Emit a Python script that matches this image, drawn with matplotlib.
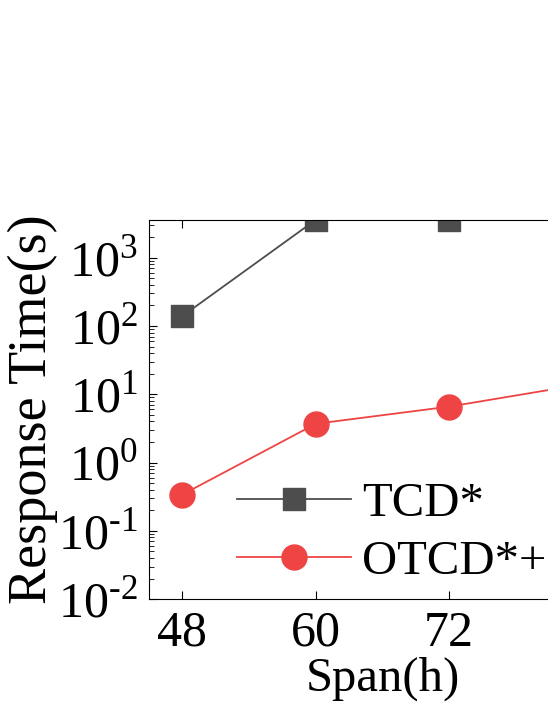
import matplotlib
matplotlib.use('Agg')
import matplotlib.pyplot as plt
from matplotlib.ticker import LogLocator, FuncFormatter, NullFormatter
import numpy as np

plt.rcParams['font.family'] = 'Liberation Serif'
plt.rcParams['mathtext.fontset'] = 'custom'
plt.rcParams['mathtext.rm'] = 'Liberation Serif'
plt.rcParams['axes.unicode_minus'] = False

spans = [48, 60, 72, 84]
tcd = [140, 3600, 3600, 3600]
otcd = [0.34, 3.7, 6.6, 14]

fig = plt.figure(figsize=(5.48, 7.09), dpi=100)
# axes run past the right edge, like the cropped original
ax = fig.add_axes([0.272, 0.155, 0.852, 0.535])

ax.plot(spans, tcd, color='#4d4d4d', marker='s', markersize=16, linewidth=1.3,
        label='TCD*')
ax.plot(spans, otcd, color='#ef4444', marker='o', markersize=18, linewidth=1.3,
        label='OTCD*+')

ax.set_yscale('log')
ax.set_ylim(0.01, 3600)
ax.set_xlim(45, 87)
ax.set_xticks(spans[:-1])  # 84 falls outside the cropped picture
ax.yaxis.set_major_locator(LogLocator(base=10, numticks=20))
ax.yaxis.set_minor_locator(LogLocator(base=10, subs=np.arange(2, 10), numticks=20))
ax.yaxis.set_minor_formatter(NullFormatter())
ax.yaxis.set_major_formatter(FuncFormatter(
    lambda v, p: '10$^{\\text{%d}}$' % round(np.log10(v))))

ax.tick_params(axis='both', which='both', direction='in', pad=8)
ax.tick_params(axis='x', which='major', top=True, length=6, labelsize=36)
ax.tick_params(axis='y', which='major', length=6, labelsize=36)
ax.tick_params(axis='y', which='minor', length=3.5)
ax.set_xlabel('Span(h)', fontsize=35, labelpad=0)
ax.set_ylabel('Response Time(s)', fontsize=39, labelpad=0)

leg = ax.legend(loc='lower left', bbox_to_anchor=(0.095, -0.075), frameon=False, fontsize=35,
                handlelength=2.35, handletextpad=0.22, labelspacing=0.29)

fig.savefig('out.png', dpi=100)
